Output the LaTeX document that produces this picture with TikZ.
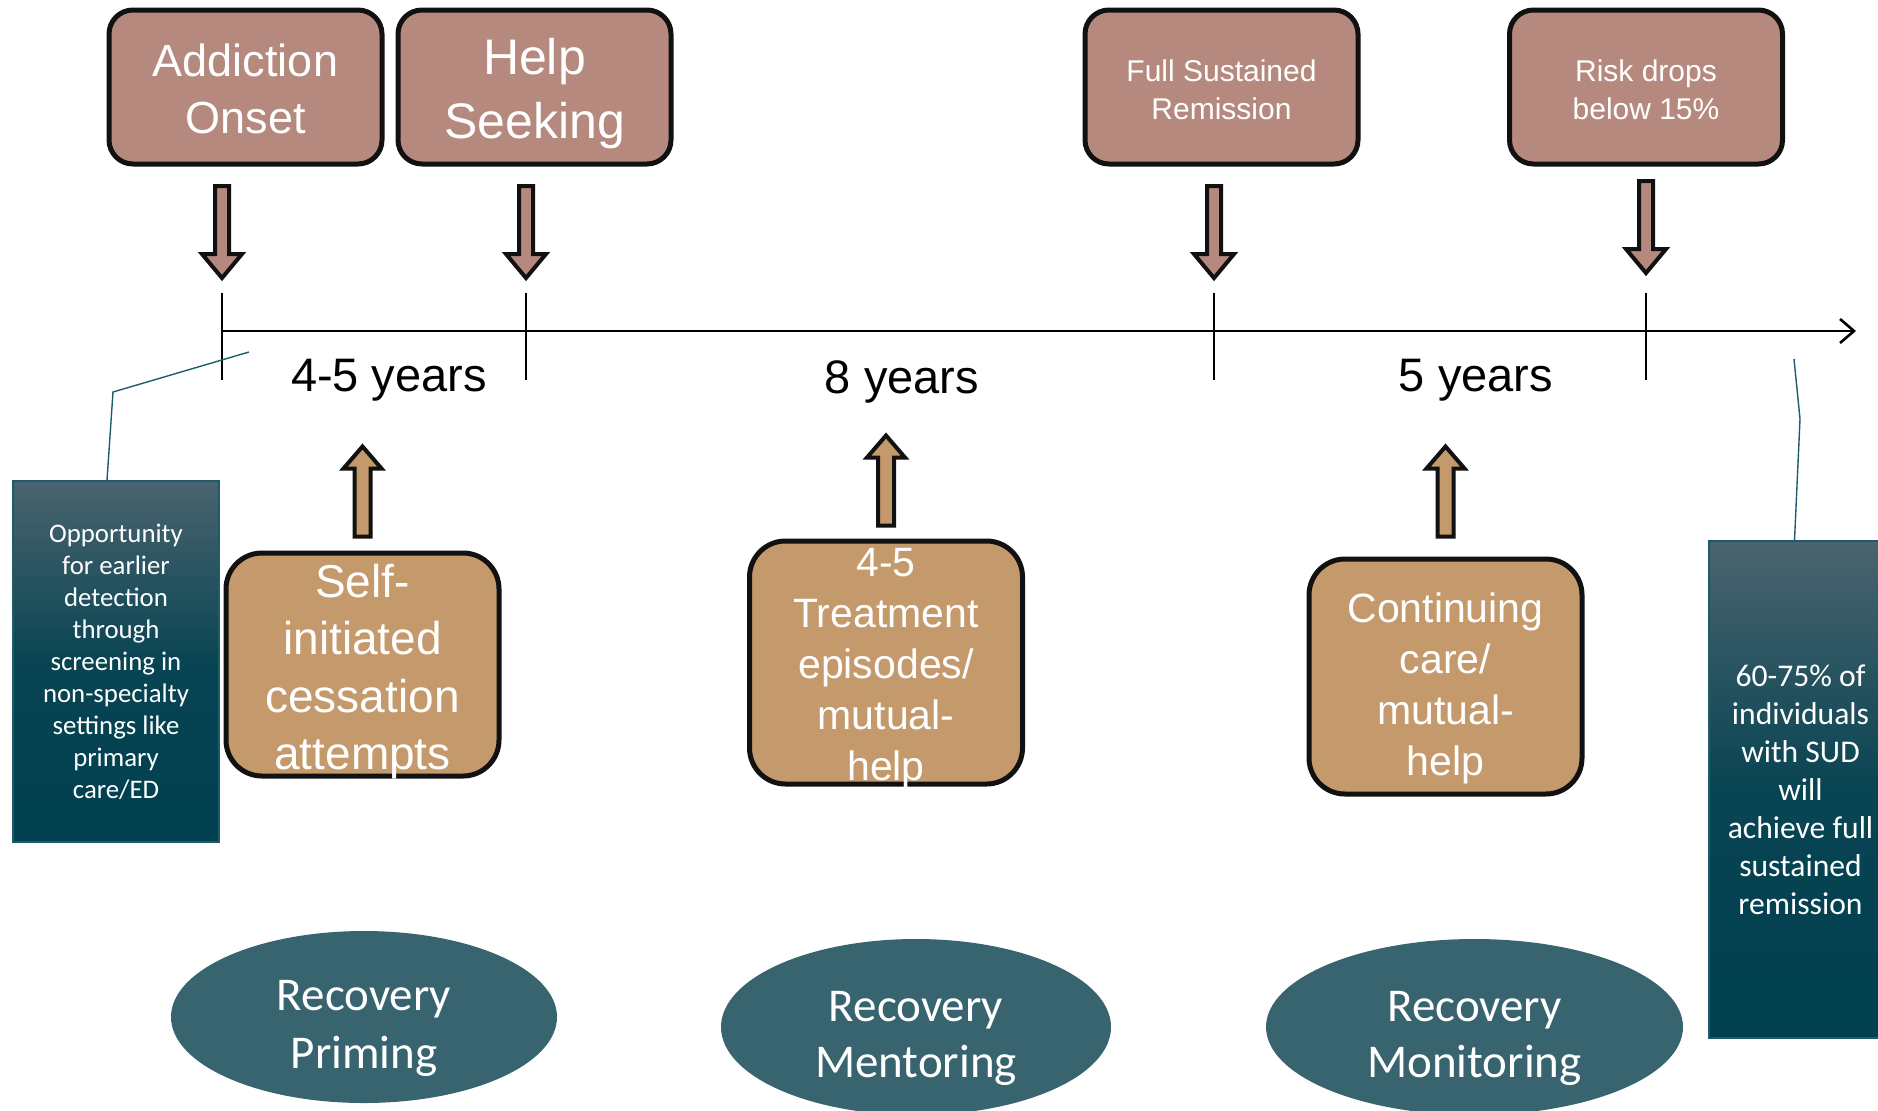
\documentclass[tikz,border=0pt]{standalone}
\usepackage{fontspec}
\setmainfont{Carlito}
\newfontfamily\arialfont{Liberation Sans}
\usepackage{tikz}
\usetikzlibrary{shapes,positioning,arrows.meta}

\definecolor{roseFill}{HTML}{B5897E}
\definecolor{tanFill}{HTML}{C4996C}
\definecolor{tealEll}{HTML}{386470}
\definecolor{tealTop}{HTML}{4A646F}
\definecolor{tealBot}{HTML}{00404F}
\definecolor{tealLine}{HTML}{1F5C6B}
\definecolor{edge}{HTML}{111111}

% block arrows, drawn from their tip
\newcommand{\downblock}[2]{\draw[#1] (#2) -- ++(20,-24) -- ++(-13,0) -- ++(0,-68) -- ++(-14,0) -- ++(0,68) -- ++(-13,0) -- cycle;}
\newcommand{\upblock}[2]{\draw[#1] (#2) -- ++(19,22) -- ++(-11,0) -- ++(0,68) -- ++(-16,0) -- ++(0,-68) -- ++(-11,0) -- cycle;}

\begin{document}
\begin{tikzpicture}[x=0.5pt,y=-0.5pt,>={Straight Barb[length=7pt,width=12pt]},
		event/.style={rectangle,rounded corners=12pt,draw=edge,line width=2.5pt,fill=roseFill,text=white,align=center,minimum width=136.5pt,minimum height=77pt,inner sep=0pt},
		effort/.style={rectangle,rounded corners=18pt,draw=edge,line width=2.5pt,fill=tanFill,minimum width=136.5pt,inner sep=0pt},
		efforttext/.style={text=white,align=center},
		phase/.style={ellipse,fill=tealEll,inner sep=0pt},
		phasetext/.style={text=white,align=center,yshift=-5.5pt},
		note/.style={rectangle,draw=tealLine,line width=0.8pt,top color=tealTop,bottom color=tealBot,middle color=tealBot!88!tealTop,text=white,align=center,inner sep=0pt},
		callout/.style={draw=tealLine,line width=0.7pt},
		years/.style={font=\arialfont\fontsize{23.5}{28}\selectfont,yshift=-1.2pt},
		downarr/.style={draw=edge,line width=2pt,fill=roseFill},
		uparr/.style={draw=edge,line width=2pt,fill=tanFill}]
		\useasboundingbox (0,0) rectangle (1878,1110);
		
		% events on top
		\node[event] (onset) at (245.5,87) {};
		\node[event] (help) at (534.5,87) {};
		\node[event] (remission) at (1221.5,87) {};
		\node[event] (risk) at (1646,87) {};
		\node[efforttext,font=\arialfont\fontsize{22.5}{28.5}\selectfont,yshift=-0.8pt] (onsettext) at (onset) {Addiction\\Onset};
		\node[efforttext,font=\arialfont\fontsize{25}{32}\selectfont,yshift=-3.5pt] (helptext) at (help) {Help\\Seeking};
		\node[efforttext,font=\arialfont\fontsize{15}{19}\selectfont,yshift=-1.2pt] (remissiontext) at (remission) {Full Sustained\\Remission};
		\node[efforttext,font=\arialfont\fontsize{15}{19}\selectfont,yshift=-1.2pt] (risktext) at (risk) {Risk drops\\below 15\%};
		
		% time line
		\coordinate (t1) at (222,331);
		\coordinate (t2) at (526,331);
		\coordinate (t3) at (1214,331);
		\coordinate (t4) at (1646,331);
		\coordinate (tend) at (1856,331);
		\draw[->,line width=1.3pt] (t1) -- (tend);
		\foreach \t in {t1,t2,t3,t4}
		\draw[line width=0.8pt] ([yshift=19pt]\t) -- ([yshift=-24.5pt]\t);
		\foreach \t/\s in {t1/26.5,t2/26.5,t3/26.5,t4/29}
		{\downblock{downarr}{[yshift=\s pt]\t}}
		
		\node[years] (span1) at (389,378) {4-5 years};
		\node[years] (span2) at (902,380) {8 years};
		\node[years] (span3) at (1476,378) {5 years};
		
		% efforts below the line
		\node[effort,minimum height=111.5pt] (self) at (362.5,664.5) {};
		\node[effort,minimum height=121.5pt] (treat) at (886,662.5) {};
		\node[effort,minimum height=117.5pt] (care) at (1445.5,676.5) {};
		\node[efforttext,font=\arialfont\fontsize{23}{28.75}\selectfont,yshift=-3.5pt] (selftext) at (self) {Self-\\initiated\\cessation\\attempts};
		\node[efforttext,font=\arialfont\fontsize{20.5}{25.5}\selectfont,yshift=-3pt] (treattext) at (treat) {4-5\\Treatment\\episodes/\\mutual-\\help};
		\node[efforttext,font=\arialfont\fontsize{20.5}{25.5}\selectfont,yshift=-6pt] (caretext) at (care) {Continuing\\care/\\mutual-\\help};
		\upblock{uparr}{[yshift=52pt]self.north}
		\upblock{uparr}{[yshift=51.5pt]treat.north}
		\upblock{uparr}{[yshift=55pt]care.north}
		
		% side notes
		\node[note,minimum width=103pt,minimum height=180.5pt,font=\fontsize{13.4}{16}\selectfont] (opp) at (116,661.5)
		{Opportunity\\for earlier\\detection\\through\\screening in\\non-specialty\\settings like\\primary\\care/ED};
		\node[note,minimum width=91.5pt,minimum height=248.5pt,font=\fontsize{15.8}{19}\selectfont] (sixty) at (1800.5,789.5)
		{60-75\% of\\individuals\\with SUD\\will\\achieve full\\sustained\\remission};
		\coordinate (oppa) at (249,352);
		\coordinate (oppb) at (113,392);
		\draw[callout] (oppa) -- (oppb) -- ([xshift=-4.5pt]opp.north);
		\coordinate (sixa) at (1794,359);
		\coordinate (sixb) at (1800,419);
		\draw[callout] (sixa) -- (sixb) -- ([xshift=-3pt]sixty.north);
		
		% phases
		\node[phase,minimum width=193pt,minimum height=86pt] (priming) at (364,1017) {};
		\node[phase,minimum width=195pt,minimum height=88pt] (mentoring) at (916,1027) {};
		\node[phase,minimum width=208.5pt,minimum height=88pt] (monitoring) at (1474.5,1027) {};
		\node[phasetext,font=\fontsize{23.5}{29}\selectfont] (primingtext) at (priming) {Recovery\\Priming};
		\node[phasetext,font=\fontsize{23.5}{28}\selectfont] (mentoringtext) at (mentoring) {Recovery\\Mentoring};
		\node[phasetext,font=\fontsize{23.5}{28}\selectfont] (monitoringtext) at (monitoring) {Recovery\\Monitoring};
\end{tikzpicture}
\end{document}
